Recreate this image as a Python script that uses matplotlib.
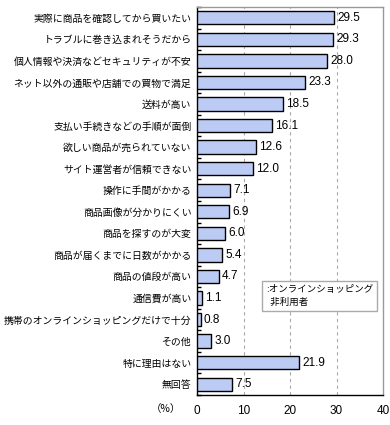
import numpy as np
import matplotlib.pyplot as plt

plt.rcParams['font.family'] = ['Noto Sans CJK JP', 'DejaVu Sans']

labels = [
    '実際に商品を確認してから買いたい',
    'トラブルに巻き込まれそうだから',
    '個人情報や決済などセキュリティが不安',
    'ネット以外の通販や店舗での買物で満足',
    '送料が高い',
    '支払い手続きなどの手順が面倒',
    '欲しい商品が売られていない',
    'サイト運営者が信頼できない',
    '操作に手間がかかる',
    '商品画像が分かりにくい',
    '商品を探すのが大変',
    '商品が届くまでに日数がかかる',
    '商品の値段が高い',
    '通信費が高い',
    '携帯のオンラインショッピングだけで十分',
    'その他',
    '特に理由はない',
    '無回答',
]
values = [29.5, 29.3, 28.0, 23.3, 18.5, 16.1, 12.6, 12.0, 7.1, 6.9,
          6.0, 5.4, 4.7, 1.1, 0.8, 3.0, 21.9, 7.5]
xticks = [0, 10, 20, 30, 40]

fig = plt.figure(figsize=(3.9, 4.25), dpi=100)
ax = fig.add_axes([197 / 390, 1 - 395 / 425, 186 / 390, 388 / 425])

n = len(labels)
y = np.arange(n)
ax.barh(y, values, height=0.62, color='#bccbf4', edgecolor='black', linewidth=1.0, zorder=3)

for yi, v in zip(y, values):
    ax.text(v + 0.7, yi, f'{v:.1f}', va='center', ha='left', fontsize=8.5,
            family=['Liberation Sans Narrow', 'Liberation Sans', 'DejaVu Sans'], zorder=4)

ax.set_ylim(n - 0.5, -0.5)
ax.set_xlim(0, 40)
ax.set_yticks(y)
ax.set_yticklabels(labels, fontsize=7.1)
ax.tick_params(axis='y', length=0, pad=4)
ax.set_yticks(np.arange(n + 1) - 0.5, minor=True)
ax.tick_params(axis='y', which='minor', direction='in', length=3, width=1)

ax.set_xticks(xticks)
ax.set_xticklabels([str(t) for t in xticks], fontsize=8.5,
                   family=['Liberation Sans Narrow', 'Liberation Sans', 'DejaVu Sans'])
ax.tick_params(axis='x', length=0, pad=7)

for t in xticks[1:-1]:
    ax.axvline(t, color='#aaaaaa', linestyle=(0, (3, 3)), linewidth=0.8, zorder=1)

ax.spines['left'].set_color('black')
ax.spines['bottom'].set_color('black')
ax.spines['top'].set_color('#999999')
ax.spines['right'].set_color('#999999')
for s in ax.spines.values():
    s.set_linewidth(1.0)

fig.text(166 / 390, 1 - 409 / 425, '（%）', fontsize=7.5, ha='center', va='center')

# legend box (no swatch in the original, just the colon)
ax.text(0.37, 0.255, ':オンラインショッピング\n  非利用者', transform=ax.transAxes,
        fontsize=6.8, ha='left', va='center', linespacing=1.4,
        bbox=dict(boxstyle='square,pad=0.45', facecolor='white', edgecolor='#aaaaaa', linewidth=1.0),
        zorder=5)

fig.savefig('out.png', dpi=100)
